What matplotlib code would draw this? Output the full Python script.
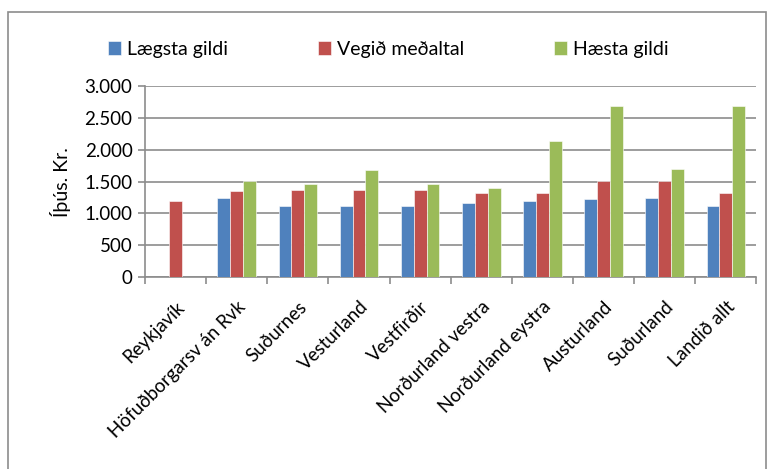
import matplotlib.pyplot as plt
import numpy as np
from matplotlib.patches import Rectangle

plt.rcParams['font.family'] = ['Lato', 'DejaVu Sans']

regions = ["Reykjavík", "Höfuðborgarsv án Rvk", "Suðurnes", "Vesturland", "Vestfirðir",
           "Norðurland vestra", "Norðurland eystra", "Austurland", "Suðurland", "Landið allt"]
lowest = [np.nan, 1245, 1120, 1120, 1120, 1165, 1195, 1220, 1245, 1120]
weighted_avg = [1190, 1345, 1370, 1370, 1370, 1320, 1320, 1505, 1505, 1320]
highest = [np.nan, 1505, 1470, 1680, 1470, 1395, 2130, 2685, 1700, 2685]
series_names = ["Lægsta gildi", "Vegið meðaltal", "Hæsta gildi"]
colors = ['#4F81BD', '#C0504D', '#9BBB59']
yticks = [0, 500, 1000, 1500, 2000, 2500, 3000]
ytick_labels = ["0", "500", "1.000", "1.500", "2.000", "2.500", "3.000"]

fig = plt.figure(figsize=(7.69, 4.69), dpi=100)
ax = fig.add_axes([0.1886, 0.409, 0.795, 0.4076])

# outer chart border (cut off on right/bottom like the screenshot)
fig.patches.append(Rectangle((8/769, -0.1), 758/769, 1.1 - 12/469, transform=fig.transFigure,
                             fill=False, edgecolor='#8c8c8c', linewidth=1.2))

x = np.arange(len(regions))
w = 0.21
for i, (vals, name, c) in enumerate(zip([lowest, weighted_avg, highest], series_names, colors)):
    ax.bar(x + (i - 1) * w, vals, w, color=c, edgecolor='white', linewidth=0.4, label=name, zorder=3)

ax.set_xlim(-0.5, len(regions) - 0.5)
ax.set_ylim(0, 3000)
ax.set_yticks(yticks)
ax.set_yticklabels(ytick_labels, fontsize=13.5)
ax.yaxis.grid(True, color='#8c8c8c', linewidth=1.2, zorder=0)
ax.set_axisbelow(True)

ax.set_xticks(np.arange(len(regions) + 1) - 0.5, minor=False)
ax.set_xticklabels([])
ax.set_xticks(x, minor=True)
ax.set_xticklabels(regions, minor=True, rotation=45, ha='right', rotation_mode='anchor', fontsize=13.5)
ax.tick_params(axis='x', which='major', length=5, color='#8c8c8c', width=1.2)
ax.tick_params(axis='x', which='minor', length=0, pad=15)
ax.tick_params(axis='y', length=5, color='#8c8c8c', width=1.2, pad=4)

for s in ['top', 'right']:
    ax.spines[s].set_visible(False)
for s in ['left', 'bottom']:
    ax.spines[s].set_color('#8c8c8c')
    ax.spines[s].set_linewidth(1.2)

ax.set_ylabel("Íþús. Kr.", fontsize=14, labelpad=10)

leg = fig.legend(loc='center', bbox_to_anchor=(0.505, 0.895), ncol=3, frameon=False, fontsize=14,
                 handlelength=0.7, handleheight=0.7, handletextpad=0.3, columnspacing=4.6)

fig.savefig("out.png", dpi=100)
